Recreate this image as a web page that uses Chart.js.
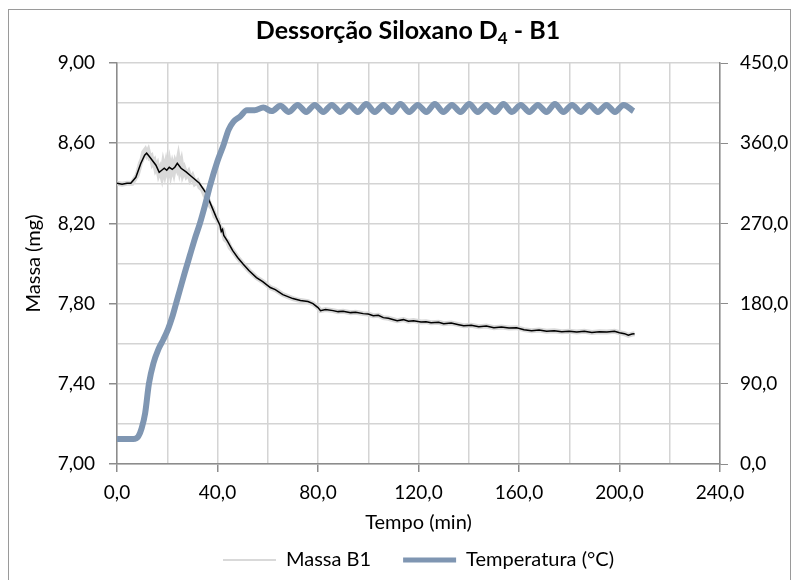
<!DOCTYPE html>
<html lang="pt-BR">
<head>
<meta charset="utf-8">
<title>Dessorção Siloxano D4 - B1</title>
<script src="https://cdn.jsdelivr.net/npm/chart.js@4.4.1/dist/chart.umd.min.js"></script>
<style>
  html, body { margin: 0; padding: 0; background: #fff; }
  #grafico-box { width: 793px; height: 580px; }
</style>
</head>
<body>
<div id="grafico-box"><canvas id="graficoDessorcao"></canvas></div>
<script>
// Massa B1 (serie bruta, cinza) - inicio ruidoso ate 46 min
const tempoMassaInicio = [0, 2, 4, 6, 7, 8, 8.7, 9.3, 10, 10.6, 11.2, 11.8, 12.4, 13, 13.6, 14.2, 14.8, 15.4, 16, 16.6,
    17.2, 17.8, 18.4, 19, 19.6, 20.2, 20.8, 21.4, 22, 22.6, 23.2, 23.8, 24.4, 25, 25.6, 26.2, 26.8, 27.6, 28.4, 29.2,
    30, 31, 32, 33, 34, 35, 36, 37, 38, 39, 40, 41, 42, 43, 44, 45, 46];
const massaInicio = [8.40, 8.395, 8.40, 8.40, 8.42, 8.44, 8.47, 8.50, 8.52, 8.555, 8.565, 8.545, 8.56, 8.53, 8.535, 8.50, 8.51, 8.475, 8.49, 8.45,
    8.47, 8.44, 8.49, 8.455, 8.495, 8.46, 8.50, 8.455, 8.49, 8.46, 8.50, 8.48, 8.52, 8.47, 8.50, 8.45, 8.47, 8.44, 8.455, 8.42,
    8.435, 8.40, 8.41, 8.38, 8.37, 8.34, 8.325, 8.29, 8.275, 8.235, 8.22, 8.18, 8.17, 8.12, 8.11, 8.08, 8.065];

// linha preta (media movel) - inicio
const tempoMediaInicio = [0, 2, 4, 5.5, 7.5, 9.5, 11, 11.8, 12.8, 14, 15.5, 16.8, 17.8, 18.8, 19.8, 20.8, 22, 23, 24, 25.5,
    27.5, 30, 32.8, 35.5, 37.5, 39.5, 41, 41.5, 42, 42.5, 44, 46];
const mediaInicio = [8.40, 8.395, 8.40, 8.40, 8.43, 8.50, 8.54, 8.55, 8.535, 8.515, 8.49, 8.455, 8.465, 8.475, 8.465, 8.48, 8.47, 8.48, 8.50, 8.475,
    8.457, 8.43, 8.40, 8.35, 8.29, 8.23, 8.19, 8.16, 8.17, 8.14, 8.11, 8.065];

// trecho final, comum as duas linhas de massa
const tempoFinal = [48, 50, 52.5, 55.5, 58, 61, 63, 66, 68, 70, 73, 76, 78, 80, 81, 83, 86, 88, 90, 93,
    95, 98, 100, 102, 104, 106, 108, 111.5, 114, 116, 118, 121, 123, 125, 128, 130, 133, 136, 138, 141,
    144, 147, 150, 153, 156, 159, 162, 165, 168, 171, 174, 177, 180, 183, 186, 189, 192, 195, 198, 200,
    202, 203.5, 205, 206];
const massaFinal = [8.03, 8.00, 7.965, 7.93, 7.91, 7.88, 7.87, 7.845, 7.835, 7.825, 7.815, 7.81, 7.80, 7.78, 7.765, 7.77, 7.765, 7.76, 7.762, 7.755,
    7.757, 7.75, 7.748, 7.74, 7.742, 7.73, 7.727, 7.715, 7.72, 7.712, 7.715, 7.708, 7.71, 7.705, 7.707, 7.70, 7.703, 7.695, 7.69, 7.692,
    7.685, 7.688, 7.68, 7.683, 7.678, 7.68, 7.67, 7.665, 7.668, 7.662, 7.665, 7.66, 7.662, 7.658, 7.662, 7.656, 7.66, 7.658, 7.662, 7.655,
    7.65, 7.642, 7.648, 7.65];

// Temperatura (°C)
const tempoTemp = [0, 6.5, 8.5, 9.8, 11.2, 12.7, 14.5, 16.5, 18.5, 20.4, 22, 23.5, 25, 27, 29, 31, 33, 35, 37, 40,
    42.4, 44.4, 46.3, 49, 51.7,
    54.8, 58.2, 61.6, 65.0, 68.4, 71.9, 75.3, 78.7, 82.1, 85.5, 88.9, 92.4, 95.8, 99.2, 102.6, 106.0, 109.4, 112.8, 116.3, 119.7,
    123.1, 126.5, 129.9, 133.3, 136.7, 140.2, 143.6, 147.0, 150.4, 153.8, 157.2, 160.7, 164.1, 167.5, 170.9, 174.3, 177.7, 181.1, 184.6, 188.0,
    191.4, 194.8, 198.2, 201.6, 205.6];
const temperatura = [28, 28, 31, 40, 57, 90, 113, 129, 140, 152, 165, 180, 195, 215, 234, 253, 270, 290, 312, 340,
    358, 375, 384, 390, 397,
    397, 400, 396, 402, 395, 403, 395, 403, 395, 403, 395, 403, 395, 404, 395, 403, 395, 404, 395, 403,
    395, 404, 395, 403, 395, 404, 395, 403, 395, 404, 395, 403, 395, 403, 395, 404, 395, 403, 395, 403,
    395, 403, 395, 403, 396];

// rotulos dos eixos
const rotulosX = ['0,0', '40,0', '80,0', '120,0', '160,0', '200,0', '240,0'];
const rotulosMassa = ['7,00', '7,40', '7,80', '8,20', '8,60', '9,00'];
const rotulosTemp = ['0,0', '90,0', '180,0', '270,0', '360,0', '450,0'];

const FONTE = 'Lato, "Open Sans", sans-serif';
const CINZA_EIXO = '#8c8c8c';
const CINZA_GRADE = '#d4d4d4';

function pares(xs, ys) {
    return xs.map((x, i) => ({ x: x, y: ys[i] }));
}

const dadosMassa = pares(tempoMassaInicio.concat(tempoFinal), massaInicio.concat(massaFinal));
const dadosMedia = pares(tempoMediaInicio.concat(tempoFinal), mediaInicio.concat(massaFinal));
const dadosTemp = pares(tempoTemp, temperatura);

// titulo com subscrito e moldura do grafico
const tituloPlugin = {
    id: 'tituloD4',
    beforeDraw(chart) {
        const ctx = chart.ctx;
        ctx.save();
        ctx.fillStyle = '#fff';
        ctx.fillRect(0, 0, chart.width, chart.height);
        ctx.strokeStyle = '#9a9a9a';
        ctx.lineWidth = 1;
        ctx.strokeRect(8.5, 9.5, 782, 620);
        ctx.restore();
    },
    afterDraw(chart) {
        const ctx = chart.ctx;
        const p1 = 'Dessorção Siloxano D', sub = '4', p2 = ' - B1';
        const fonteG = 'bold 25px ' + FONTE, fonteP = 'bold 17px ' + FONTE;
        ctx.save();
        ctx.fillStyle = '#000';
        ctx.textBaseline = 'alphabetic';
        ctx.font = fonteG;
        const w1 = ctx.measureText(p1).width, w3 = ctx.measureText(p2).width;
        ctx.font = fonteP;
        const w2 = ctx.measureText(sub).width;
        let x = 408 - (w1 + w2 + w3) / 2;
        ctx.font = fonteG;
        ctx.fillText(p1, x, 39);
        ctx.font = fonteP;
        ctx.fillText(sub, x + w1, 44);
        ctx.font = fonteG;
        ctx.fillText(p2, x + w1 + w2, 39);
        ctx.restore();
    }
};

document.addEventListener('DOMContentLoaded', function () {
    const ctx = document.getElementById('graficoDessorcao').getContext('2d');
    Chart.defaults.font.family = FONTE;
    Chart.defaults.font.size = 19;
    Chart.defaults.color = '#000';

    new Chart(ctx, {
        type: 'line',
        data: {
            datasets: [{
                label: 'Massa B1',
                data: dadosMassa,
                yAxisID: 'yMassa',
                borderColor: '#d9d9d9',
                borderWidth: 5,
                pointRadius: 0,
                pointStyle: 'line',
                tension: 0,
                order: 3
            }, {
                label: 'media',
                data: dadosMedia,
                yAxisID: 'yMassa',
                borderColor: '#000000',
                borderWidth: 1.5,
                pointRadius: 0,
                pointStyle: 'line',
                tension: 0,
                order: 2
            }, {
                label: 'Temperatura (°C)',
                data: dadosTemp,
                yAxisID: 'yTemp',
                borderColor: '#7f96b2',
                borderWidth: 6,
                pointRadius: 0,
                pointStyle: 'line',
                cubicInterpolationMode: 'monotone',
                order: 1
            }]
        },
        options: {
            responsive: true,
            maintainAspectRatio: false,
            animation: false,
            devicePixelRatio: 1,
            layout: { padding: { top: 63, left: 0, right: 0, bottom: 0 } },
            scales: {
                x: {
                    type: 'linear',
                    min: 0,
                    max: 240,
                    ticks: {
                        stepSize: 20,
                        padding: 9,
                        maxRotation: 0,
                        autoSkip: false,
                        callback: v => (Math.round(v) % 40 === 0 ? rotulosX[Math.round(v) / 40] : '')
                    },
                    grid: {
                        color: CINZA_GRADE,
                        lineWidth: 1.5,
                        tickLength: 8,
                        tickColor: c => (c.tick && Math.round(c.tick.value) % 40 === 0 ? CINZA_EIXO : 'rgba(0,0,0,0)')
                    },
                    border: { color: CINZA_EIXO, width: 1.5 },
                    title: { display: true, text: 'Tempo (min)', font: { size: 20 }, padding: { top: 0, bottom: -17 } },
                    afterFit: s => { s.height = 54; }
                },
                yMassa: {
                    position: 'left',
                    min: 7,
                    max: 9,
                    ticks: {
                        stepSize: 0.2,
                        padding: 14,
                        autoSkip: false,
                        callback: v => {
                            const k = Math.round((v - 7) * 10);
                            return k % 4 === 0 ? rotulosMassa[k / 4] : '';
                        }
                    },
                    grid: {
                        color: CINZA_GRADE,
                        lineWidth: 1.5,
                        tickLength: 8,
                        tickColor: c => (c.tick && Math.round((c.tick.value - 7) * 10) % 4 === 0 ? CINZA_EIXO : 'rgba(0,0,0,0)')
                    },
                    border: { color: CINZA_EIXO, width: 1.5 },
                    title: { display: true, text: 'Massa (mg)', font: { size: 20 }, padding: { top: 22, bottom: 0 } },
                    afterFit: s => { s.width = 117; }
                },
                yTemp: {
                    position: 'right',
                    min: 0,
                    max: 450,
                    ticks: {
                        stepSize: 90,
                        padding: 12,
                        callback: v => rotulosTemp[Math.round(v / 90)]
                    },
                    grid: {
                        drawOnChartArea: false,
                        tickLength: 8,
                        tickColor: CINZA_EIXO
                    },
                    border: { color: CINZA_EIXO, width: 1.5 },
                    afterFit: s => { s.width = 73; }
                }
            },
            plugins: {
                title: { display: false },
                tooltip: { enabled: false },
                legend: {
                    display: true,
                    position: 'bottom',
                    fullSize: false,
                    labels: {
                        usePointStyle: true,
                        pointStyleWidth: 53,
                        padding: 32,
                        color: '#000',
                        font: { size: 20 },
                        generateLabels: chart => {
                            const itens = Chart.defaults.plugins.legend.labels.generateLabels(chart);
                            return itens
                                .filter(it => it.datasetIndex !== 1)
                                .sort((a, b) => a.datasetIndex - b.datasetIndex)
                                .map(it => Object.assign(it, { lineWidth: it.datasetIndex === 0 ? 2 : 5 }));
                        }
                    }
                }
            }
        },
        plugins: [tituloPlugin]
    });
});
</script>
</body>
</html>
